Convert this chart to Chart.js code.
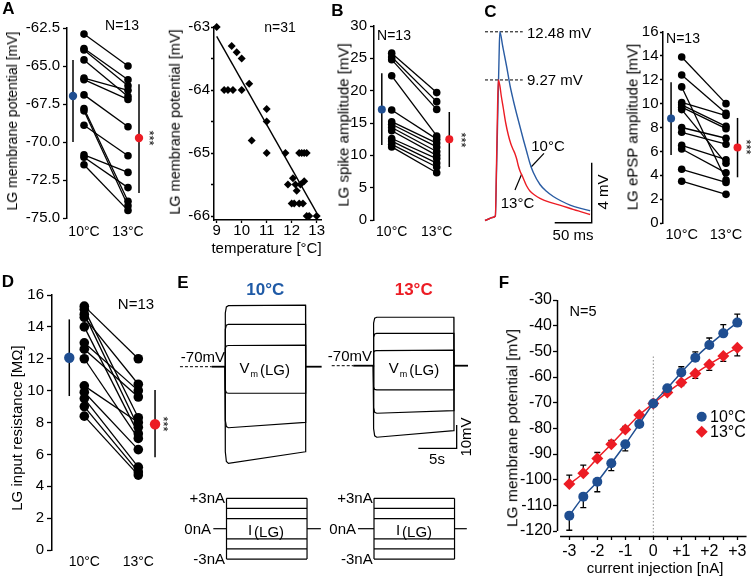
<!DOCTYPE html>
<html><head><meta charset="utf-8">
<script src="https://cdn.jsdelivr.net/npm/chart.js@4/dist/chart.umd.min.js"></script>
<style>
html,body{margin:0;padding:0;background:#fff;}
#fig{position:relative;width:751px;height:577px;overflow:hidden;background:#fff;font-family:"Liberation Sans",Arial,Helvetica,sans-serif;color:#000;}
#fig canvas{position:absolute;}
.t{position:absolute;white-space:nowrap;line-height:1;}
</style></head><body><div id="fig"></div>
<script>
// ================= DATA =================
const pairedCats = ['10°C', '13°C'];

// A (left): LG membrane potential [mV], N=13, paired 10°C -> 13°C
const mp10 = [-62.9, -63.85, -63.95, -64.6, -65.8, -65.9, -66.9, -67.8, -67.95, -68.9, -70.85, -71.0, -71.5];
const mp13 = [-65.0, -65.9, -66.3, -67.0, -66.6, -67.2, -69.0, -73.9, -74.2, -70.9, -72.0, -73.0, -74.5];
const mpMean = [-66.97, -69.74];
const mpSdLow = [-70.0, -73.35];
const mpSdHigh = [-64.6, -66.2];
const mpTicks = [-62.5, -65, -67.5, -70, -72.5, -75];

// A (right): temperature [°C] vs LG membrane potential [mV], n=31
const tempC  = [9.0, 9.6, 9.8, 10.0, 9.3, 9.45, 9.65, 10.0, 10.3, 10.4, 11.0, 11.0, 11.0, 11.75, 12.3, 12.4, 12.5, 12.6, 12.05, 11.85, 12.5, 12.2, 12.1, 12.0, 12.3, 12.6, 12.7, 13.0, 12.45, 12.35, 12.15];
const tempMP = [-63.0, -63.3, -63.4, -63.5, -64.0, -64.0, -64.0, -64.0, -63.9, -64.8, -64.3, -64.5, -65.0, -65.0, -65.0, -65.0, -65.0, -65.0, -65.4, -65.5, -65.45, -65.6, -65.8, -65.8, -65.8, -66.0, -66.0, -66.0, -65.8, -65.5, -65.5];
const tempFitC = [9, 13];
const tempFitMP = [-63.15, -65.95];
const tempXTicks = [9, 10, 11, 12, 13];
const tempYTicks = [-63, -63.5, -64, -64.5, -65, -65.5, -66];

// B: LG spike amplitude [mV]
const spike10 = [25.8, 25.2, 24.8, 22.3, 17.0, 15.2, 14.8, 14.3, 13.8, 12.6, 12.2, 11.7, 11.3];
const spike13 = [19.7, 18.3, 17.1, 13.0, 12.5, 11.9, 11.3, 10.6, 10.0, 9.5, 8.8, 8.2, 7.3];
const spikeMean = [17.1, 12.47];
const spikeSdLow = [11.6, 8.2];
const spikeSdHigh = [22.7, 16.7];
const spikeTicks = [0, 5, 10, 15, 20, 25, 30];

// C (left): ePSP traces (time [ms], voltage [mV])
const cPeaks = [12.48, 9.27];
const cT10 = [0, 5, 10, 14, 15.5, 17.5, 19, 20, 24, 29.3, 33.8, 38.3, 42.8, 47.3, 51.8, 56.3, 60.8, 65.3, 74.3, 83, 92.3, 103, 115, 128, 142];
const cV10 = [-0.1, 0.0, 0.1, 0.2, 3.0, 7.5, 10.8, 12.48, 11.5, 10.15, 8.9, 7.9, 7.0, 6.15, 5.3, 4.5, 3.7, 3.1, 2.3, 1.85, 1.5, 1.2, 0.93, 0.72, 0.55];
const cT13 = [0, 5, 10, 14, 15.5, 17, 18, 20, 22, 24.7, 28, 31.5, 35, 38.3, 40.5, 42.8, 45, 47.3, 51, 56.3, 61, 67, 74.3, 87, 101, 120, 142];
const cV13 = [-0.1, 0.0, 0.1, 0.2, 3.5, 7.5, 9.27, 8.9, 8.2, 7.4, 6.4, 5.6, 5.0, 4.6, 4.35, 4.0, 3.55, 3.2, 2.8, 2.2, 1.85, 1.6, 1.38, 1.12, 0.93, 0.62, 0.3];
const cScaleMs = 50, cScaleMV = 4;

// C (right): LG ePSP amplitude [mV]
const epsp10 = [13.9, 12.4, 11.4, 10.1, 9.9, 9.7, 9.5, 8.0, 7.6, 6.5, 6.2, 4.5, 3.5];
const epsp13 = [10.0, 9.2, 3.6, 9.0, 8.1, 7.9, 5.0, 7.1, 6.6, 5.3, 4.2, 3.4, 2.4];
const epspMean = [8.75, 6.33];
const epspSdLow = [5.7, 3.83];
const epspSdHigh = [11.8, 8.8];
const epspTicks = [0, 2, 4, 6, 8, 10, 12, 14, 16];

// D: LG input resistance [MΩ]
const rin10 = [15.3, 15.1, 14.8, 14.6, 14.0, 13.0, 12.6, 12.0, 10.3, 9.9, 9.5, 9.0, 8.4];
const rin13 = [12.0, 8.3, 7.7, 10.4, 7.3, 10.0, 9.6, 7.0, 8.0, 6.3, 5.2, 4.9, 4.7];
const rinMean = [12.06, 7.89];
const rinSdLow = [9.66, 5.82];
const rinSdHigh = [14.47, 10.04];
const rinTicks = [0, 2, 4, 6, 8, 10, 12, 14, 16];

// E: voltage responses (mV) to current steps (nA)
const eRest = -70;
const ePulseDur = 10.5;              // s
const eCurrents = [3, 2, 1, 0, -1, -2, -3];
const e10Start = [-43.8, -51.8, -60.9, -70, -81.4, -96.2, -111.5];
const e10End   = [-43.6, -51.8, -60.7, -70, -81.4, -93.9, -106.5];
const e13Start = [-49.2, -56.1, -63.5, -70, -80.4, -90.4, -100.7];
const e13End   = [-49.2, -56.1, -63.3, -70, -80.4, -89.3, -97.9];
const eScaleS = 5, eScaleMV = 10;

// F: I-V relation, N=5
const fCurrent = [-3, -2.5, -2, -1.5, -1, -0.5, 0, 0.5, 1, 1.5, 2, 2.5, 3];
const fV10 = [-114.0, -106.6, -100.8, -93.6, -86.2, -78.3, -70.3, -64.4, -58.2, -52.5, -47.5, -43.0, -38.8];
const fV13 = [-101.7, -97.5, -91.7, -86.2, -80.4, -74.8, -70.3, -66.0, -62.1, -58.6, -55.1, -51.8, -48.6];
const fErr10 = [-5.7, -4.3, -3.9, -2.9, -2.6, -1.0, 0, 1.0, 2.2, 2.3, 2.7, 3.4, 3.3];
const fErr13 = [3.5, 3.2, 2.3, 1.5, 1.2, 0.8, 0, -0.8, -1.2, -1.9, -2.3, -2.1, -3.2];
const fXTicks = [-3, -2.5, -2, -1.5, -1, -0.5, 0, 0.5, 1, 1.5, 2, 2.5, 3];
const fXLabels = ['-3', '', '-2', '', '-1', '', '0', '', '+1', '', '+2', '', '+3'];
const fYTicks = [-30, -40, -50, -60, -70, -80, -90, -100, -110, -120];

// ================= DRAWING =================
const BLUE = '#1f4e91', RED = '#ec1c24';
const FONT = '"Liberation Sans", Arial, Helvetica, sans-serif';
const fig = document.getElementById('fig');
Chart.defaults.font.family = FONT;
Chart.defaults.color = '#000';
Chart.defaults.animation = false;

function T(html, x, y, o = {}) {
  const d = document.createElement('div');
  d.className = 't';
  d.innerHTML = html;
  d.style.fontSize = (o.s || 15) + 'px';
  if (o.b) d.style.fontWeight = 'bold';
  if (o.c) d.style.color = o.c;
  d.style.left = x + 'px';
  d.style.top = y + 'px';
  const ax = o.a === 'l' ? '0' : o.a === 'r' ? '-100%' : '-50%';
  d.style.transform = `translate(${ax},-50%)` + (o.r ? ` rotate(${o.r}deg)` : '');
  fig.appendChild(d);
}

function mkCanvas(r) {
  const c = document.createElement('canvas');
  c.width = r.w; c.height = r.h;
  c.style.left = r.l + 'px'; c.style.top = r.t + 'px';
  c.style.width = r.w + 'px'; c.style.height = r.h + 'px';
  fig.appendChild(c);
  return c;
}

function addChart(r, area, datasets, scales, plugins) {
  const c = mkCanvas(r);
  const a = area || { l: r.l, t: r.t, r: r.l + r.w, b: r.t + r.h };
  const pad = { left: 0, top: a.t - r.t, right: r.l + r.w - a.r, bottom: 0 };
  if (scales.x.display !== false) scales.x.afterFit = s => { s.height = r.t + r.h - a.b; };
  else pad.bottom = r.t + r.h - a.b;
  if (scales.y.display !== false) scales.y.afterFit = s => { s.width = a.l - r.l; };
  else pad.left = a.l - r.l;
  datasets.forEach(d => { d.clip = false; if (d.pointBorderWidth === undefined) d.pointBorderWidth = 0; });
  return new Chart(c.getContext('2d'), {
    type: 'scatter',
    data: { datasets },
    options: {
      responsive: false, animation: false, events: [], devicePixelRatio: 1,
      layout: { autoPadding: false, padding: pad },
      plugins: { legend: { display: false }, tooltip: { enabled: false } },
      scales
    },
    plugins: plugins || []
  });
}

function line(pts, color, w, extra) {
  return Object.assign({ data: pts, showLine: true, borderColor: color, borderWidth: w, pointRadius: 0 }, extra || {});
}

// Paired (10°C vs 13°C) dot plots
function paired(r, area, P) {
  const ds = [];
  ds.push({ data: [{ x: P.mx[0], y: P.mean[0] }], pointRadius: P.mr, pointBackgroundColor: BLUE });
  ds.push({ data: [{ x: P.mx[1], y: P.mean[1] }], pointRadius: P.mr, pointBackgroundColor: RED });
  for (let k = 0; k < 2; k++) ds.push(line([{ x: P.mx[k], y: P.lo[k] }, { x: P.mx[k], y: P.hi[k] }], '#000', 1.5));
  for (let i = 0; i < P.a.length; i++)
    ds.push(line([{ x: 1, y: P.a[i] }, { x: 2, y: P.b[i] }], '#000', 1.3, { pointRadius: P.pr, pointBackgroundColor: '#000' }));
  const xppu = P.xppu;
  return addChart(r, area, ds, {
    x: {
      type: 'linear', bounds: 'data',
      min: 1 - (P.x1px - area.l) / xppu, max: 1 + (area.r - P.x1px) / xppu,
      afterBuildTicks: s => { s.ticks = [{ value: 1 }, { value: 2 }]; },
      ticks: { callback: (v, i) => pairedCats[i], font: { size: P.xfs }, padding: P.xpad, maxRotation: 0, autoSkip: false },
      grid: { display: false, drawTicks: false }, border: { display: false }
    },
    y: {
      type: 'linear', bounds: 'data', min: P.ymin, max: P.ymax,
      afterBuildTicks: s => { s.ticks = P.ticks.map(v => ({ value: v })); },
      ticks: { callback: P.fmt, font: { size: P.yfs }, padding: P.ypad, autoSkip: false },
      grid: { drawOnChartArea: false, tickLength: P.tl, tickColor: '#000', tickWidth: 1.3 },
      border: { color: '#000', width: 1.5 }
    }
  });
}

// ---- A left
paired({ l: 0, t: 0, w: 160, h: 250 }, { l: 67, t: 28, r: 152, b: 218 }, {
  a: mp10, b: mp13, mean: mpMean, lo: mpSdLow, hi: mpSdHigh, mx: [0.75, 2.25],
  ymin: -75, ymax: -62.5, ticks: mpTicks, fmt: v => v.toFixed(1),
  x1px: 84, xppu: 44, xfs: 14, xpad: 5.6, yfs: 15, ypad: 3, tl: 4, pr: 3.8, mr: 4.2
});
T('LG membrane potential [mV]', 12, 121, { s: 14, r: -90 });
T('N=13', 122, 25, { s: 14 });
T('***', 149, 138, { s: 13, r: 90 });

// ---- A right (scatter + regression)
(function () {
  const r = { l: 160, t: 0, w: 172, h: 260 }, a = { l: 214, t: 27, r: 321, b: 220 };
  const ds = [
    { data: tempC.map((c, i) => ({ x: c, y: tempMP[i] })), pointStyle: 'rectRot', pointRadius: 4, pointBackgroundColor: '#000' },
    line(tempFitC.map((c, i) => ({ x: c, y: tempFitMP[i] })), '#000', 1.4)
  ];
  addChart(r, a, ds, {
    x: {
      type: 'linear', bounds: 'data', min: 9 - (216.7 - a.l) / 25, max: 9 + (a.r - 216.7) / 25,
      afterBuildTicks: s => { s.ticks = tempXTicks.map(v => ({ value: v })); },
      ticks: { callback: v => String(v), font: { size: 15, lineHeight: 1 }, padding: 0, maxRotation: 0, autoSkip: false },
      grid: { drawOnChartArea: false, tickLength: 3, tickColor: '#000', tickWidth: 1.3 }, border: { color: '#000', width: 1.5 }
    },
    y: {
      type: 'linear', bounds: 'data', max: -63, min: -63 - (a.b - a.t) / 63,
      afterBuildTicks: s => { s.ticks = tempYTicks.map(v => ({ value: v })); },
      ticks: { callback: v => (Number.isInteger(v) ? String(v) : ''), font: { size: 15 }, padding: 1, autoSkip: false },
      grid: { drawOnChartArea: false, tickLength: 3, tickColor: '#000', tickWidth: 1.3 }, border: { color: '#000', width: 1.5 }
    }
  });
})();
T('LG membrane potential [mV]', 175, 122, { s: 14.5, r: -90 });
T('temperature [°C]', 266.5, 247, { s: 15 });
T('n=31', 280, 27, { s: 14 });

// ---- B
paired({ l: 330, t: 0, w: 135, h: 250 }, { l: 374, t: 26, r: 462, b: 220 }, {
  a: spike10, b: spike13, mean: spikeMean, lo: spikeSdLow, hi: spikeSdHigh, mx: [0.78, 2.28],
  ymin: 0, ymax: 30, ticks: spikeTicks, fmt: v => String(v),
  x1px: 391.7, xppu: 45, xfs: 14, xpad: 3.3, yfs: 15, ypad: 3, tl: 4, pr: 3.8, mr: 4
});
T('LG spike amplitude [mV]', 343.3, 124.5, { s: 15, r: -90 });
T('N=13', 394, 35, { s: 14 });
T('***', 460.7, 140, { s: 13, r: 90 });

// ---- C traces
(function () {
  const r = { l: 478, t: 20, w: 124, h: 228 };
  const x0 = 485, ppms = 0.74, y0 = 219, ppmv = 15;
  const xs = { display: false, type: 'linear', min: (r.l - x0) / ppms, max: (r.l + r.w - x0) / ppms };
  const ys = { display: false, type: 'linear', max: (y0 - r.t) / ppmv, min: -(r.t + r.h - y0) / ppmv };
  const barT = 144.2, barV = -0.25;
  const ds = [
    line(cT13.map((t, i) => ({ x: t, y: cV13[i] })), RED, 1.4, { cubicInterpolationMode: 'monotone' }),
    line(cT10.map((t, i) => ({ x: t, y: cV10[i] })), '#2a5ca3', 1.4, { cubicInterpolationMode: 'monotone' }),
    line([{ x: 0, y: cPeaks[0] }, { x: 51, y: cPeaks[0] }], '#000', 1, { borderDash: [3, 2] }),
    line([{ x: 0, y: cPeaks[1] }, { x: 51, y: cPeaks[1] }], '#000', 1, { borderDash: [3, 2] }),
    line([{ x: barT - cScaleMs, y: barV }, { x: barT, y: barV }, { x: barT, y: barV + cScaleMV }], '#000', 1.4),
    line([{ x: 79.7, y: 4.38 }, { x: 62, y: 3.45 }], '#000', 1.2),
    line([{ x: 40.5, y: 1.93 }, { x: 49.6, y: 3.0 }], '#000', 1.2)
  ];
  addChart(r, null, ds, { x: xs, y: ys });
})();
T(cPeaks[0].toFixed(2) + ' mV', 527, 32, { s: 15, a: 'l' });
T(cPeaks[1].toFixed(2) + ' mV', 527, 79, { s: 15, a: 'l' });
T('10°C', 548, 145, { s: 15 });
T('13°C', 517.5, 202, { s: 15 });
T('50 ms', 573, 234, { s: 15 });
T('4 mV', 602, 192, { s: 15, r: -90 });

// ---- C right (ePSP amplitude)
paired({ l: 612, t: 0, w: 139, h: 250 }, { l: 663, t: 32, r: 750, b: 223 }, {
  a: epsp10, b: epsp13, mean: epspMean, lo: epspSdLow, hi: epspSdHigh, mx: [0.76, 2.26],
  ymin: 0, ymax: 16, ticks: epspTicks, fmt: v => String(v),
  x1px: 681.7, xppu: 44.3, xfs: 14.5, xpad: 3.5, yfs: 15, ypad: 1.5, tl: 3, pr: 3.8, mr: 4
});
T('LG ePSP amplitude [mV]', 631.7, 127, { s: 15, r: -90 });
T('N=13', 683, 38, { s: 14 });
T('***', 745.7, 147, { s: 13, r: 90 });

// ---- D
paired({ l: 0, t: 280, w: 180, h: 297 }, { l: 52, t: 295, r: 178, b: 550 }, {
  a: rin10, b: rin13, mean: rinMean, lo: rinSdLow, hi: rinSdHigh, mx: [0.722, 2.31],
  ymin: 0, ymax: 16, ticks: rinTicks, fmt: v => String(v),
  x1px: 84.3, xppu: 54, xfs: 14, xpad: 3.6, yfs: 15, ypad: 3, tl: 5, pr: 4.8, mr: 5.2
});
T('LG input resistance [MΩ]', 16, 428, { s: 15, r: -90 });
T('N=13', 136, 303, { s: 15 });
T('***', 163, 424, { s: 13, r: 90 });

// ---- E voltage traces
const E_PPS = 7.67, E_PPMV = 2.33, E_PPNA = 10.12;
function eVolt(r, px0, py0, starts, ends, dashFrom, solidFrom, postTo, bar) {
  const xs = { display: false, type: 'linear', min: (r.l - px0) / E_PPS, max: (r.l + r.w - px0) / E_PPS };
  const ys = { display: false, type: 'linear', max: eRest + (py0 - r.t) / E_PPMV, min: eRest - (r.t + r.h - py0) / E_PPMV };
  const ds = [];
  // resting trace (0 nA): only visible outside the pulse window
  ds.push(line([{ x: solidFrom, y: eRest }, { x: 0, y: eRest }], '#000', 1.8));
  ds.push(line([{ x: ePulseDur, y: eRest }, { x: postTo, y: eRest }], '#000', 1.8));
  starts.forEach((s, i) => {
    if (eCurrents[i] === 0) return;
    // near-instant charging with a slightly rounded corner, then the step, then fast return
    ds.push(line([
      { x: 0, y: eRest }, { x: 0.04, y: s + (eRest - s) * 0.12 }, { x: 0.18, y: s + (eRest - s) * 0.02 }, { x: 0.45, y: s },
      { x: ePulseDur, y: ends[i] }, { x: ePulseDur + 0.02, y: eRest }], '#000', 1.2));
  });
  ds.push(line([{ x: dashFrom, y: eRest }, { x: solidFrom, y: eRest }], '#000', 1, { borderDash: [3, 2] }));
  if (bar) ds.push(line([{ x: bar.t - eScaleS, y: bar.v }, { x: bar.t, y: bar.v }, { x: bar.t, y: bar.v + eScaleMV }], '#000', 1.3));
  addChart(r, null, ds, { x: xs, y: ys });
}
eVolt({ l: 176, t: 292, w: 154, h: 186 }, 225, 366.7, e10Start, e10End, -5.87, -1.73, 12.6, null);
eVolt({ l: 324, t: 292, w: 152, h: 186 }, 373.3, 365.7, e13Start, e13End, -5.42, -2.61, 12.35, { t: 10.87, v: -105.45 });

// ---- E current steps
function eCurr(r, px0, zeroFrom, zeroTo) {
  const py0 = 528.7;
  const xs = { display: false, type: 'linear', min: (r.l - px0) / E_PPS, max: (r.l + r.w - px0) / E_PPS };
  const ys = { display: false, type: 'linear', max: (py0 - r.t) / E_PPNA, min: -(r.t + r.h - py0) / E_PPNA };
  const top = Math.max(...eCurrents), bot = Math.min(...eCurrents);
  const ds = [];
  eCurrents.filter(c => c !== 0).forEach(c => ds.push(line([{ x: 0, y: c }, { x: ePulseDur, y: c }], '#000', 1.2)));
  ds.push(line([{ x: 0, y: bot }, { x: 0, y: top }], '#000', 1.2));
  ds.push(line([{ x: ePulseDur, y: bot }, { x: ePulseDur, y: top }], '#000', 1.2));
  ds.push(line([{ x: zeroFrom, y: 0 }, { x: 0, y: 0 }], '#000', 1.2));
  ds.push(line([{ x: ePulseDur, y: 0 }, { x: zeroTo, y: 0 }], '#000', 1.2));
  addChart(r, null, ds, { x: xs, y: ys });
}
eCurr({ l: 176, t: 486, w: 154, h: 84 }, 226.5, -1.72, 12.3);
eCurr({ l: 324, t: 486, w: 152, h: 84 }, 374, -2.09, 12.1);

T('10°C', 265.3, 289, { s: 17, b: 1, c: '#1f5aa6' });
T('13°C', 413.7, 289, { s: 17, b: 1, c: RED });
const VM = 'V<span style="font-size:9px;position:relative;top:4px;margin-left:1px">m</span><span style="position:relative;top:2px;margin-left:2px">(LG)</span>';
const IL = 'I<span style="position:relative;top:2px;margin-left:2px">(LG)</span>';
T('-70mV', 225, 355.7, { s: 15, a: 'r' });
T('-70mV', 372, 355, { s: 15, a: 'r' });
T(VM, 264.7, 367, { s: 15 });
T(VM, 414, 367, { s: 15 });
T('+3nA', 225, 496.7, { s: 15, a: 'r' });
T('0nA', 211, 528.3, { s: 15, a: 'r' });
T('-3nA', 225, 558.3, { s: 15, a: 'r' });
T('+3nA', 372.7, 496.7, { s: 15, a: 'r' });
T('0nA', 356, 528.3, { s: 15, a: 'r' });
T('-3nA', 372.7, 558.3, { s: 15, a: 'r' });
T(IL, 266, 529, { s: 15 });
T(IL, 414, 529, { s: 15 });
T('5s', 437, 458, { s: 15 });
T('10mV', 465, 437, { s: 15, r: -90 });

// ---- F: I-V curves
(function () {
  const r = { l: 490, t: 288, w: 261, h: 289 }, a = { l: 557, t: 300, r: 750, b: 536 };
  const x0 = 653.3, ppna = 28, y0 = 300, ppmv = 2.567;
  const yMin = -30 - (a.b - y0) / ppmv;
  const ds = [
    line(fCurrent.map((c, i) => ({ x: c, y: fV10[i] })), BLUE, 1.5, { pointRadius: 5, pointBackgroundColor: BLUE, cubicInterpolationMode: 'monotone' }),
    line(fCurrent.map((c, i) => ({ x: c, y: fV13[i] })), RED, 1.5, { pointRadius: 6, pointStyle: 'rectRot', pointBackgroundColor: RED, cubicInterpolationMode: 'monotone' }),
    line([{ x: 0, y: -52 }, { x: 0, y: yMin }], '#8a8a8a', 1, { borderDash: [1.5, 2] })
  ];
  const extra = {
    id: 'fExtra',
    beforeDatasetsDraw(chart) {
      const { ctx, scales: { x, y } } = chart;
      ctx.save(); ctx.strokeStyle = '#000'; ctx.lineWidth = 1.3;
      [[fV10, fErr10], [fV13, fErr13]].forEach(([vals, errs]) => {
        fCurrent.forEach((c, i) => {
          if (!errs[i]) return;
          const px = x.getPixelForValue(c), p0 = y.getPixelForValue(vals[i]), p1 = y.getPixelForValue(vals[i] + errs[i]);
          ctx.beginPath(); ctx.moveTo(px, p0); ctx.lineTo(px, p1);
          ctx.moveTo(px - 3, p1); ctx.lineTo(px + 3, p1); ctx.stroke();
        });
      });
      ctx.restore();
    },
    afterDraw(chart) {
      const { ctx, scales: { x, y }, chartArea } = chart;
      ctx.save(); ctx.strokeStyle = '#000'; ctx.lineWidth = 1.5;
      const xl = Math.round(chartArea.left) + 0.5, yb = Math.round(chartArea.bottom) + 0.5;
      ctx.beginPath();
      ctx.moveTo(xl, y.getPixelForValue(fYTicks[0])); ctx.lineTo(xl, y.getPixelForValue(fYTicks[fYTicks.length - 1]));
      ctx.moveTo(x.getPixelForValue(-3.33), yb); ctx.lineTo(x.getPixelForValue(3.33), yb);
      ctx.stroke();
      // legend markers
      const lx = 701.7 - r.l, l1 = 416.7 - r.t, l2 = 431.7 - r.t;
      ctx.fillStyle = BLUE; ctx.beginPath(); ctx.arc(lx, l1, 5, 0, 2 * Math.PI); ctx.fill();
      ctx.fillStyle = RED; ctx.beginPath(); ctx.moveTo(lx, l2 - 6); ctx.lineTo(lx + 6, l2); ctx.lineTo(lx, l2 + 6); ctx.lineTo(lx - 6, l2); ctx.closePath(); ctx.fill();
      ctx.restore();
    }
  };
  addChart(r, a, ds, {
    x: {
      type: 'linear', bounds: 'data', min: (a.l - x0) / ppna, max: (a.r - x0) / ppna,
      afterBuildTicks: s => { s.ticks = fXTicks.map(v => ({ value: v })); },
      ticks: { callback: (v, i) => fXLabels[i], font: { size: 16 }, padding: 2.4, maxRotation: 0, autoSkip: false },
      grid: { drawOnChartArea: false, tickLength: 4, tickColor: '#000', tickWidth: 1.3 }, border: { display: false }
    },
    y: {
      type: 'linear', bounds: 'data', max: -30 + (y0 - a.t) / ppmv, min: yMin,
      afterBuildTicks: s => { s.ticks = fYTicks.map(v => ({ value: v })); },
      ticks: { callback: v => String(v), font: { size: 16 }, padding: 1, autoSkip: false },
      grid: { drawOnChartArea: false, tickLength: 4, tickColor: '#000', tickWidth: 1.3 }, border: { display: false }
    }
  }, [extra]);
})();
T('LG membrane potential [mV]', 511.7, 428, { s: 15.5, r: -90 });
T('current injection [nA]', 655, 566.7, { s: 15 });
T('N=5', 583, 311, { s: 14.5 });
T('10°C', 710, 416.7, { s: 16, a: 'l' });
T('13°C', 710, 431.7, { s: 16, a: 'l' });

// ---- panel letters
T('A', 8.5, 7.5, { s: 17, b: 1 });
T('B', 337.5, 9.5, { s: 17, b: 1 });
T('C', 490.5, 10.5, { s: 17, b: 1 });
T('D', 8, 281, { s: 17, b: 1 });
T('E', 183, 282, { s: 17, b: 1 });
T('F', 504, 282, { s: 17, b: 1 });
</script></body></html>
